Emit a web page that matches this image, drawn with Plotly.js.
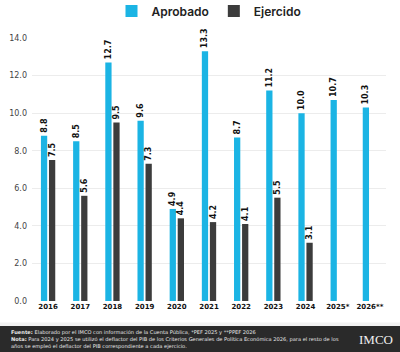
<!DOCTYPE html>
<html>
<head>
<meta charset="utf-8">
<script src="https://cdn.plot.ly/plotly-3.0.1.min.js"></script>
<style>html,body{margin:0;padding:0;background:#fff;}#chart{width:400px;height:352px;}</style>
</head>
<body>
<div id="chart"></div>
<script>
const categories = ["2016","2017","2018","2019","2020","2021","2022","2023","2024","2025*","2026**"];
const aprobado = [8.8, 8.5, 12.7, 9.6, 4.9, 13.3, 8.7, 11.2, 10.0, 10.7, 10.3];
const ejercido = [7.5, 5.6, 9.5, 7.3, 4.4, 4.2, 4.1, 5.5, 3.1, null, null];
const yTicks = [0, 2, 4, 6, 8, 10, 12, 14];

const labelFont = {family: "DejaVu Sans", size: 8, color: "#111", weight: "bold"};
const traces = [
  {type: "bar", name: "Aprobado", x: categories, y: aprobado, marker: {color: "#1BB4E4"},
   texttemplate: "%{y:.1f}", textposition: "outside", textangle: -90, constraintext: "none", textfont: labelFont, cliponaxis: false, hoverinfo: "none"},
  {type: "bar", name: "Ejercido", x: categories, y: ejercido, marker: {color: "#3C3C3C"},
   texttemplate: "%{y:.1f}", textposition: "outside", textangle: -90, constraintext: "none", textfont: labelFont, cliponaxis: false, hoverinfo: "none"}
];

const footFont = {family: "DejaVu Sans", size: 5.1, color: "#e8e8e8"};
const layout = {
  width: 400, height: 352,
  margin: {l: 32, r: 14, t: 38, b: 51, autoexpand: false},
  paper_bgcolor: "#fff", plot_bgcolor: "#fff",
  barmode: "group", bargap: 0.5, bargroupgap: 0.22,
  showlegend: true,
  legend: {orientation: "h", x: 0.5, xanchor: "center", y: 1.103, yanchor: "middle",
           font: {family: "Inter", size: 12, color: "#222", weight: 600}, itemwidth: 30, traceorder: "normal"},
  xaxis: {type: "category", tickfont: {family: "DejaVu Sans", size: 7, color: "#111", weight: "bold"},
          showgrid: false, zeroline: false, showline: false, ticks: "", fixedrange: true},
  yaxis: {range: [0, 14], tickvals: yTicks, tickformat: ".1f", tickfont: {family: "DejaVu Sans", size: 8, color: "#444"},
          gridcolor: "#ececec", gridwidth: 1, zeroline: false, showline: false, ticks: "", ticklabelstandoff: 4, fixedrange: true},
  shapes: [
    {type: "rect", xref: "paper", yref: "paper", x0: -0.1, x1: 1.05, y0: -0.194, y1: -0.082, fillcolor: "#f2f2f2", line: {width: 0}, layer: "below"},
    {type: "rect", xref: "paper", yref: "paper", x0: -0.1, x1: 1.05, y0: -0.194, y1: -0.095, fillcolor: "#2a2a2a", line: {width: 0}}
  ],
  annotations: [
    {xref: "paper", yref: "paper", x: -0.064, y: -0.118, xanchor: "left", yanchor: "middle", showarrow: false, align: "left",
     text: "<b>Fuente:</b> Elaborado por el IMCO con información de la Cuenta Pública, *PEF 2025 y **PPEF 2026", font: footFont},
    {xref: "paper", yref: "paper", x: -0.064, y: -0.145, xanchor: "left", yanchor: "middle", showarrow: false, align: "left",
     text: "<b>Nota:</b> Para 2024 y 2025 se utilizó el deflactor del PIB de los Criterios Generales de Política Económica 2026, para el resto de los", font: footFont},
    {xref: "paper", yref: "paper", x: -0.064, y: -0.172, xanchor: "left", yanchor: "middle", showarrow: false, align: "left",
     text: "años se empleó el deflactor del PIB correspondiente a cada ejercicio.", font: footFont},
    {xref: "paper", yref: "paper", x: 1.025, y: -0.145, xanchor: "right", yanchor: "middle", showarrow: false,
     text: "IMCO", font: {family: "Liberation Serif", size: 13, color: "#f0f0f0"}}
  ]
};

Plotly.newPlot("chart", traces, layout, {displayModeBar: false, staticPlot: true});
</script>
</body>
</html>
